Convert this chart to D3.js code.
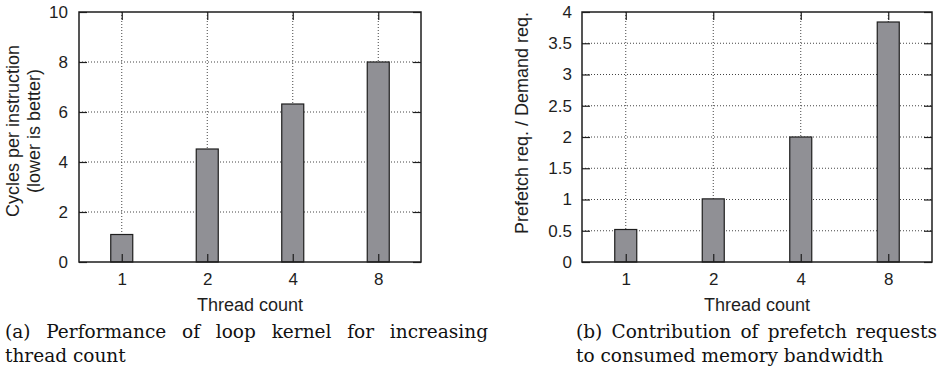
<!DOCTYPE html>
<html>
<head>
<meta charset="utf-8">
<script src="https://cdn.jsdelivr.net/npm/d3@7"></script>
<style>
  html, body { margin: 0; padding: 0; background: #fff; }
  svg { display: block; }
</style>
</head>
<body>
<svg id="chart" width="938" height="369"></svg>
<script>
// ---- Data ----
const categories = ["1", "2", "4", "8"];
const cpiValues = [1.1, 4.52, 6.32, 8.0];
const prefetchRatio = [0.52, 1.01, 2.0, 3.84];
const cpiTicks = [0, 2, 4, 6, 8, 10];
const ratioTicks = [0, 0.5, 1, 1.5, 2, 2.5, 3, 3.5, 4];
const xTitle = "Thread count";
const cpiTitle = ["Cycles per instruction", "(lower is better)"];
const ratioTitle = ["Prefetch req. / Demand req."];
const captionA = ["(a) Performance of loop kernel for increasing", "thread count"];
const captionB = ["(b) Contribution of prefetch requests", "to consumed memory bandwidth"];

const svg = d3.select("#chart");
const sans = "'Liberation Sans', Arial, Helvetica, sans-serif";
const serif = "'DejaVu Serif', serif";
const ink = "#1e1e1e";
const fmt = d3.format("~g");

function drawChart(opt) {
  const g = svg.append("g");
  const x = d3.scalePoint().domain(categories).range([opt.left, opt.right]).padding(0.5);
  const y = d3.scaleLinear().domain([opt.ticks[0], opt.ticks[opt.ticks.length - 1]]).range([opt.bottom, opt.top]);

  // grid
  g.append("g").selectAll("line").data(opt.ticks.slice(1, -1)).join("line")
    .attr("x1", opt.left).attr("x2", opt.right)
    .attr("y1", d => y(d)).attr("y2", d => y(d))
    .attr("stroke", "#444").attr("stroke-width", 1).attr("stroke-dasharray", "1,2");
  g.append("g").selectAll("line").data(categories).join("line")
    .attr("x1", d => x(d)).attr("x2", d => x(d))
    .attr("y1", opt.top).attr("y2", opt.bottom)
    .attr("stroke", "#444").attr("stroke-width", 1).attr("stroke-dasharray", "1,2");

  // bars
  const bw = 22;
  g.append("g").selectAll("rect").data(opt.values).join("rect")
    .attr("x", (d, i) => x(categories[i]) - bw / 2)
    .attr("width", bw)
    .attr("y", d => y(d))
    .attr("height", d => y(opt.ticks[0]) - y(d))
    .attr("fill", "#909095").attr("stroke", ink).attr("stroke-width", 1.2);

  // inward tick marks (left, right, top, bottom)
  const tl = 8;
  const styleTicks = s => { s.select(".domain").remove(); s.selectAll("line").attr("stroke", ink).attr("stroke-width", 1.2); };
  g.append("g").attr("transform", `translate(${opt.left},0)`)
    .call(d3.axisRight(y).tickValues(opt.ticks).tickSize(tl).tickFormat("")).call(styleTicks);
  g.append("g").attr("transform", `translate(${opt.right},0)`)
    .call(d3.axisLeft(y).tickValues(opt.ticks).tickSize(tl).tickFormat("")).call(styleTicks);
  g.append("g").attr("transform", `translate(0,${opt.top})`)
    .call(d3.axisBottom(x).tickSize(tl).tickFormat("")).call(styleTicks);
  g.append("g").attr("transform", `translate(0,${opt.bottom})`)
    .call(d3.axisTop(x).tickSize(tl).tickFormat("")).call(styleTicks);

  // frame
  g.append("rect").attr("x", opt.left).attr("y", opt.top)
    .attr("width", opt.right - opt.left).attr("height", opt.bottom - opt.top)
    .attr("fill", "none").attr("stroke", ink).attr("stroke-width", 1.5);

  // y tick labels
  g.append("g").attr("transform", `translate(${opt.left},0)`)
    .call(d3.axisLeft(y).tickValues(opt.ticks).tickSize(0).tickPadding(opt.left - opt.yLabelRight).tickFormat(fmt))
    .call(s => s.select(".domain").remove())
    .selectAll("text").attr("font-family", sans).attr("font-size", 17).attr("fill", ink);

  // x tick labels
  g.append("g").attr("transform", `translate(0,${opt.bottom})`)
    .call(d3.axisBottom(x).tickSize(0).tickPadding(11))
    .call(s => s.select(".domain").remove())
    .selectAll("text").attr("font-family", sans).attr("font-size", 17).attr("fill", ink);

  // x title
  g.append("text").attr("x", (opt.left + opt.right) / 2).attr("y", 311)
    .attr("text-anchor", "middle").attr("font-family", sans).attr("font-size", 18).attr("fill", ink)
    .text(xTitle);

  // y title
  opt.yTitle.forEach((t, i) => {
    g.append("text")
      .attr("transform", `translate(${opt.yTitleX[i]},${opt.yTitleY}) rotate(-90)`)
      .attr("text-anchor", "middle").attr("font-family", sans).attr("font-size", 18).attr("fill", ink)
      .text(t);
  });

  // caption (line 1 of (a) justified by word spacing)
  opt.caption.forEach((t, i) => {
    const el = g.append("text").attr("x", opt.capX).attr("y", 338 + i * 24)
      .attr("font-family", serif).attr("font-size", 18.5).attr("fill", "#111")
      .text(t);
    const target = opt.capWidths[i];
    if (target) {
      const natural = el.node().getComputedTextLength();
      const spaces = (t.match(/ /g) || []).length;
      if (spaces > 0) el.attr("word-spacing", (target - natural) / spaces);
    }
  });
}

drawChart({
  left: 79, right: 421, top: 12, bottom: 262,
  values: cpiValues, ticks: cpiTicks, yLabelRight: 68,
  yTitle: cpiTitle, yTitleX: [19, 40], yTitleY: 131,
  caption: captionA, capX: 5, capWidths: [483, null]
});

drawChart({
  left: 582, right: 932, top: 12, bottom: 262,
  values: prefetchRatio, ticks: ratioTicks, yLabelRight: 572,
  yTitle: ratioTitle, yTitleX: [528], yTitleY: 123,
  caption: captionB, capX: 576, capWidths: [361, null]
});
</script>
</body>
</html>
